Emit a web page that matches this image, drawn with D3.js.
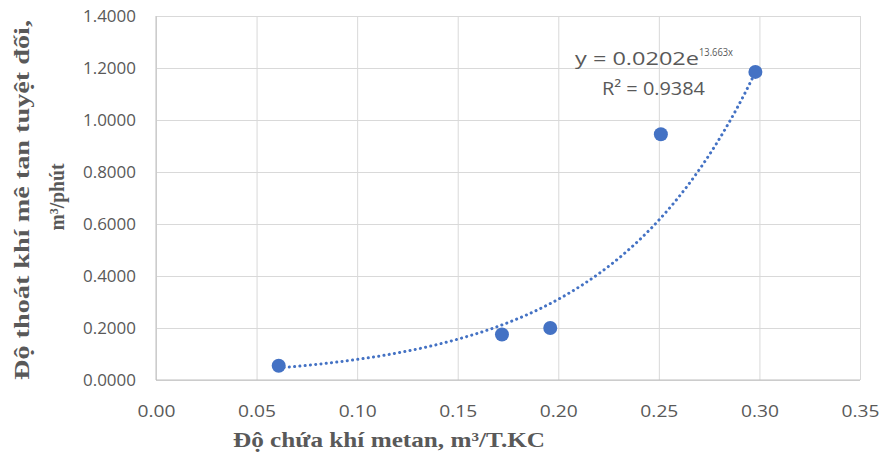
<!DOCTYPE html>
<head>
    <meta charset="utf-8">
    <title>Do thoat khi metan</title>
    <style>
      body { margin: 0; background: #fff; }
    </style>
</head>

<script src="https://d3js.org/d3.v7.min.js"></script>

<div id="chart"></div>

<script>
    // data
    var methaneContent = [0.061, 0.172, 0.196, 0.251, 0.298];   // m3/T.KC
    var methaneRelease = [0.055, 0.175, 0.200, 0.945, 1.185];   // m3/phut
    var xTickValues = [0, 0.05, 0.10, 0.15, 0.20, 0.25, 0.30, 0.35];
    var yTickValues = [0, 0.2, 0.4, 0.6, 0.8, 1.0, 1.2, 1.4];
    // exponential trendline printed on the chart
    var trendA = 0.0202, trendB = 13.663, trendR2 = 0.9384;

    var margin = {top: 16, right: 19, bottom: 84, left: 156},
        width = 879 - margin.left - margin.right,
        height = 464 - margin.top - margin.bottom;

    var svg = d3.select("#chart")
      .append("svg")
      .attr("width", 879)
      .attr("height", 464)
      .append("g")
      .attr("transform", "translate(" + margin.left + "," + margin.top + ")");

    var x = d3.scaleLinear().domain([0, 0.35]).range([0, width]);
    var y = d3.scaleLinear().domain([0, 1.4]).range([height, 0]);

    // grid
    svg.append("g")
      .attr("transform", "translate(0," + height + ")")
      .call(d3.axisBottom(x).tickValues(xTickValues).tickSize(-height).tickFormat(""))
      .call(function(g) { g.select(".domain").remove(); })
      .selectAll("line").attr("stroke", "#d9d9d9");
    svg.append("g")
      .call(d3.axisLeft(y).tickValues(yTickValues).tickSize(-width).tickFormat(""))
      .call(function(g) { g.select(".domain").remove(); })
      .selectAll("line").attr("stroke", "#d9d9d9");

    // axis lines
    svg.append("line").attr("x1", 0).attr("x2", 0).attr("y1", 0).attr("y2", height)
      .attr("stroke", "#bfbfbf");
    svg.append("line").attr("x1", 0).attr("x2", width).attr("y1", height).attr("y2", height)
      .attr("stroke", "#bfbfbf");

    // tick labels
    var xAxis = svg.append("g")
      .attr("transform", "translate(0," + height + ")")
      .call(d3.axisBottom(x).tickValues(xTickValues).tickSize(0).tickPadding(25).tickFormat(d3.format(".2f")));
    xAxis.select(".domain").remove();
    xAxis.selectAll("text")
      .style("font-family", "Open Sans").style("font-size", "17px").attr("fill", "#595959")
      .attr("textLength", 38).attr("lengthAdjust", "spacingAndGlyphs");

    var yAxis = svg.append("g")
      .call(d3.axisLeft(y).tickValues(yTickValues).tickSize(0).tickPadding(20).tickFormat(d3.format(".4f")));
    yAxis.select(".domain").remove();
    yAxis.selectAll("text")
      .style("font-family", "Open Sans").style("font-size", "17px").attr("fill", "#595959")
      .attr("textLength", 53).attr("lengthAdjust", "spacingAndGlyphs");

    // trendline y = a*e^(bx)
    var xs = d3.range(methaneContent[0], methaneContent[methaneContent.length - 1] + 0.0001, 0.002);
    var line = d3.line()
      .x(function(d) { return x(d); })
      .y(function(d) { return y(trendA * Math.exp(trendB * d)); });
    svg.append("path")
      .datum(xs)
      .attr("d", line)
      .attr("fill", "none")
      .attr("stroke", "#4472c4")
      .attr("stroke-width", 3)
      .attr("stroke-linecap", "round")
      .attr("stroke-dasharray", "0.1 5.2");

    // points
    svg.append("g")
      .selectAll("circle")
      .data(methaneContent)
      .enter()
      .append("circle")
        .attr("cx", function(d) { return x(d); })
        .attr("cy", function(d, i) { return y(methaneRelease[i]); })
        .attr("r", 7)
        .attr("fill", "#4472c4");

    // equation
    var eq = svg.append("text")
      .attr("x", 575 - margin.left)
      .attr("y", 65 - margin.top)
      .style("font-family", "Open Sans")
      .style("font-size", "18px")
      .attr("fill", "#595959");
    eq.append("tspan").text("y = " + trendA + "e")
      .attr("textLength", 124).attr("lengthAdjust", "spacingAndGlyphs");
    eq.append("tspan").text(trendB + "x")
      .style("font-size", "11px").attr("dy", -9)
      .attr("textLength", 34).attr("lengthAdjust", "spacingAndGlyphs");
    svg.append("text")
      .attr("x", 602 - margin.left)
      .attr("y", 95 - margin.top)
      .style("font-family", "Open Sans")
      .style("font-size", "18px")
      .attr("fill", "#595959")
      .attr("textLength", 103).attr("lengthAdjust", "spacingAndGlyphs")
      .text("R\u00b2 = " + trendR2);

    // axis titles
    var root = d3.select("svg");
    function serifTitle(sel) {
      sel.attr("text-anchor", "middle")
        .style("font-family", "'Liberation Serif', 'DejaVu Serif', serif")
        .style("font-weight", "bold")
        .style("font-size", "21px")
        .attr("fill", "#595959")
        .attr("lengthAdjust", "spacingAndGlyphs");
    }
    root.append("text")
      .attr("x", 389)
      .attr("y", 447)
      .call(serifTitle)
      .attr("textLength", 312)
      .text("Độ chứa khí metan, m\u00b3/T.KC");

    root.append("text")
      .attr("transform", "rotate(-90)")
      .attr("x", -200)
      .attr("y", 29)
      .call(serifTitle)
      .attr("textLength", 360)
      .text("Độ thoát khí mê tan tuyệt đối,");
    root.append("text")
      .attr("transform", "rotate(-90)")
      .attr("x", -197)
      .attr("y", 64)
      .call(serifTitle)
      .attr("textLength", 67)
      .text("m\u00b3/phút");
</script>
